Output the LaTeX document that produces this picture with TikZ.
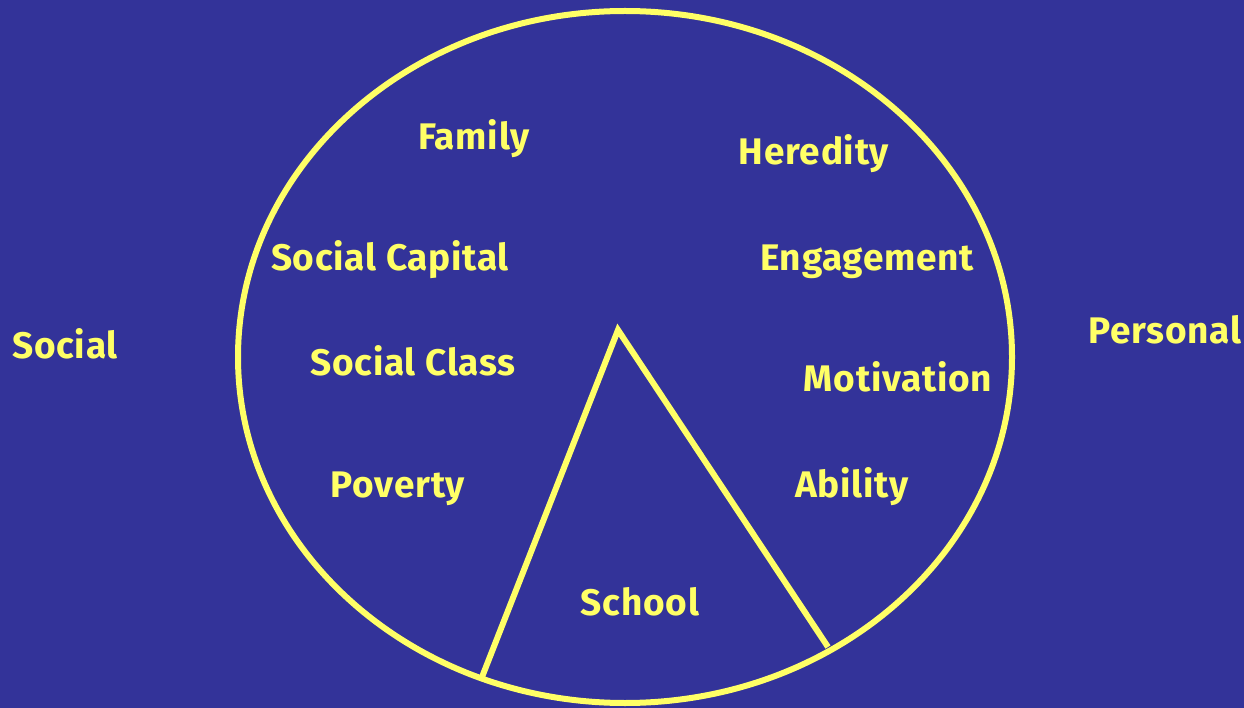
\documentclass[tikz,border=0pt]{standalone}
\usepackage{fontspec}
\setmainfont{Fira Sans}[UprightFont=* Bold, LetterSpace=2]
\definecolor{bg}{HTML}{333399}
\definecolor{yel}{HTML}{FFFF66}
\begin{document}
\begin{tikzpicture}[x=1pt,y=-1pt,
  lbl/.style={text=yel,anchor=base,inner sep=0pt,font=\fontsize{37}{40}\selectfont},
  ln/.style={draw=yel,line width=6pt}]
\fill[bg] (0,0) rectangle (1244,708);
\useasboundingbox (0,0) rectangle (1244,708);
\draw[ln] (625,357) ellipse [x radius=387, y radius=346];
\coordinate (apex) at (618,330);
\coordinate (lf) at (482,677);
\coordinate (rf) at (828,647);
\draw[ln,line join=miter] (lf) -- (apex) -- (rf);
\node[lbl] (family) at (474,150) {Family};
\node[lbl] (heredity) at (814,165) {Heredity};
\node[lbl] (scap) at (390,271) {Social Capital};
\node[lbl] (eng) at (867,271) {Engagement};
\node[lbl] (social) at (65,359) {Social};
\node[lbl] (personal) at (1165,343) {Personal};
\node[lbl] (sclass) at (413,375) {Social Class};
\node[lbl] (motiv) at (898,391) {Motivation};
\node[lbl] (pov) at (398,497) {Poverty};
\node[lbl] (abil) at (852,497) {Ability};
\node[lbl] (school) at (640,615) {School};
\end{tikzpicture}
\end{document}
